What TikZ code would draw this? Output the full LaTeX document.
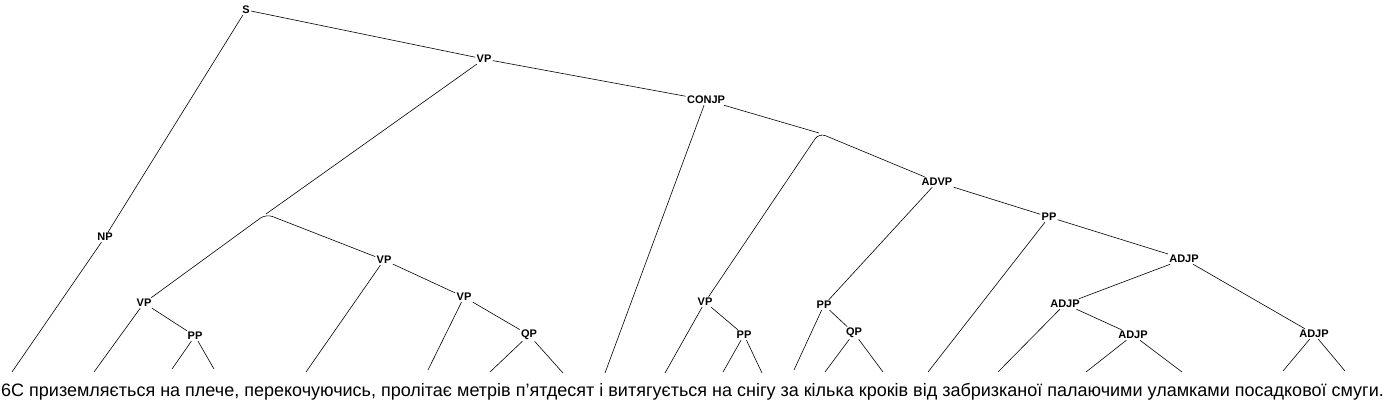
\documentclass[tikz,border=0pt]{standalone}
\usepackage{fontspec}
\setmainfont{Liberation Sans}
\tikzset{
  cat/.style={font=\bfseries\fontsize{11}{12}\selectfont, inner sep=1.2pt},
  branch/.style={line width=0.6pt},
  fork/.style={branch, rounded corners=7pt}
}
\begin{document}
\begin{tikzpicture}[x=1pt,y=-1pt]
  \useasboundingbox (0,0) rectangle (1386,404);
  % phrase labels
  \node [cat] (S) at (246,10) {S};
  \node [cat] (NP) at (105,237) {NP};
  \node [cat] (VPtop) at (484,59) {VP};
  \node [cat] (CONJP) at (706,100) {CONJP};
  \node [cat] (VPa) at (144,303) {VP};
  \node [cat] (PPa) at (195,336) {PP};
  \node [cat] (VPb) at (384,260) {VP};
  \node [cat] (VPc) at (464,297) {VP};
  \node [cat] (QPa) at (529,335) {QP};
  \node [cat] (VPd) at (705,302) {VP};
  \node [cat] (PPd) at (744,335) {PP};
  \node [cat] (ADVP) at (937,182) {ADVP};
  \node [cat] (PPe) at (824,305) {PP};
  \node [cat] (QPe) at (854,333) {QP};
  \node [cat] (PPf) at (1049,217) {PP};
  \node [cat] (ADJPa) at (1184,259) {ADJP};
  \node [cat] (ADJPb) at (1065,304) {ADJP};
  \node [cat] (ADJPc) at (1133,335) {ADJP};
  \node [cat] (ADJPd) at (1314,334) {ADJP};
  % unlabelled forks
  \coordinate (forkA) at (266,214);
  \coordinate (forkB) at (819,133);
  % leaf ends
  \coordinate (w1) at (12,372);
  \coordinate (w2) at (94,372);
  \coordinate (w3) at (172,369);
  \coordinate (w4) at (214,369);
  \coordinate (w5) at (306,372);
  \coordinate (w6) at (428,370);
  \coordinate (w7) at (490,372);
  \coordinate (w8) at (563,373);
  \coordinate (w9) at (605,373);
  \coordinate (w10) at (665,373);
  \coordinate (w11) at (723,372);
  \coordinate (w12) at (762,373);
  \coordinate (w13) at (794,370);
  \coordinate (w14) at (825,372);
  \coordinate (w15) at (883,372);
  \coordinate (w16) at (928,372);
  \coordinate (w17) at (998,372);
  \coordinate (w18) at (1086,372);
  \coordinate (w19) at (1182,372);
  \coordinate (w20) at (1283,371);
  \coordinate (w21) at (1345,371);
  \node [anchor=base, inner sep=0pt, font=\fontsize{18}{20}\selectfont] (sent) at (692.5,396)
    {6С приземляється на плече, перекочуючись, пролітає метрів п’ятдесят і витягується на снігу за кілька кроків від забризканої палаючими уламками посадкової смуги.};
  % branches
  \draw [branch] (S) -- (NP) -- (w1);
  \draw [branch] (S) -- (VPtop) -- (CONJP);
  \draw [branch] (VPtop) -- (forkA);
  \draw [fork] (VPa) -- (forkA) -- (VPb);
  \draw [branch] (VPa) -- (w2);
  \draw [branch] (VPa) -- (PPa);
  \draw [branch] (PPa) -- (w3);
  \draw [branch] (PPa) -- (w4);
  \draw [branch] (VPb) -- (w5);
  \draw [branch] (VPb) -- (VPc);
  \draw [branch] (VPc) -- (w6);
  \draw [branch] (VPc) -- (QPa);
  \draw [branch] (QPa) -- (w7);
  \draw [branch] (QPa) -- (w8);
  \draw [branch] (CONJP) -- (w9);
  \draw [branch] (CONJP) -- (forkB);
  \draw [fork] (VPd) -- (forkB) -- (ADVP);
  \draw [branch] (VPd) -- (w10);
  \draw [branch] (VPd) -- (PPd);
  \draw [branch] (PPd) -- (w11);
  \draw [branch] (PPd) -- (w12);
  \draw [branch] (ADVP) -- (PPe);
  \draw [branch] (PPe) -- (w13);
  \draw [branch] (PPe) -- (QPe);
  \draw [branch] (QPe) -- (w14);
  \draw [branch] (QPe) -- (w15);
  \draw [branch] (ADVP) -- (PPf);
  \draw [branch] (PPf) -- (w16);
  \draw [branch] (PPf) -- (ADJPa);
  \draw [branch] (ADJPa) -- (ADJPb);
  \draw [branch] (ADJPb) -- (w17);
  \draw [branch] (ADJPb) -- (ADJPc);
  \draw [branch] (ADJPc) -- (w18);
  \draw [branch] (ADJPc) -- (w19);
  \draw [branch] (ADJPa) -- (ADJPd);
  \draw [branch] (ADJPd) -- (w20);
  \draw [branch] (ADJPd) -- (w21);
\end{tikzpicture}
\end{document}
